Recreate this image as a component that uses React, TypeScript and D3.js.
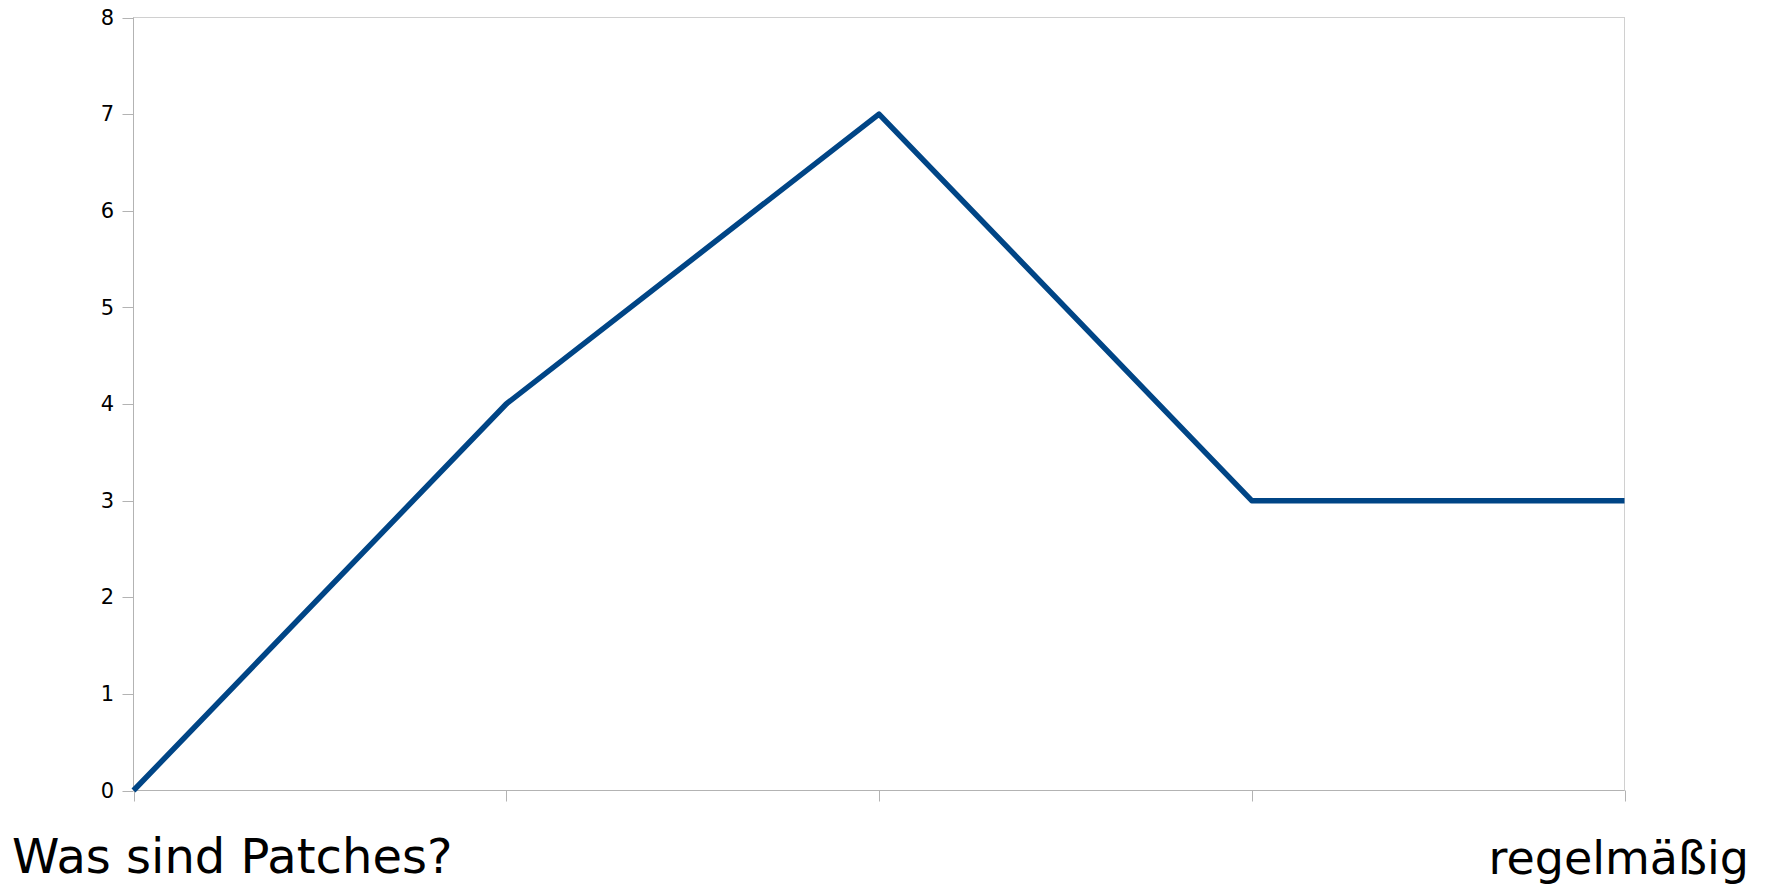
import React from "react";
import * as d3 from "d3";

const categories = ["Was sind Patches?", "", "", "", "regelmäßig"];
const values = [0, 4, 7, 3, 3];
const yTicks = [0, 1, 2, 3, 4, 5, 6, 7, 8];

const W = 1771;
const H = 884;
const left = 133.5;
const right = 1624.5;
const top = 17.5;
const bottom = 790.5;

export default function App() {
  const x = d3.scalePoint<number>().domain(d3.range(categories.length)).range([left, right]);
  const y = d3.scaleLinear().domain([0, 8]).range([bottom, top]);
  const line = d3
    .line<number>()
    .x((_, i) => x(i) as number)
    .y((d) => y(d));
  const axisColor = "#b3b3b3";
  const font = "'DejaVu Sans', sans-serif";
  return (
    <svg
      width={W}
      height={H}
      style={{ position: "absolute", left: 0, top: 0, background: "#fff" }}
    >
      <rect x={left} y={top} width={right - left} height={bottom - top} fill="none" stroke="#d0d0d0" strokeWidth={1} />
      <line x1={left} x2={left} y1={top} y2={bottom} stroke={axisColor} />
      <line x1={left} x2={right} y1={bottom} y2={bottom} stroke={axisColor} />
      {yTicks.map((t) => (
        <g key={t}>
          <line x1={left - 11} x2={left} y1={Math.round(y(t)) + 0.5} y2={Math.round(y(t)) + 0.5} stroke={axisColor} />
          <text
            x={114}
            y={y(t)}
            dy="0.34em"
            textAnchor="end"
            fontFamily={font}
            fontSize={21}
            fill="#000"
          >
            {t}
          </text>
        </g>
      ))}
      {categories.map((c, i) => (
        <line
          key={i}
          x1={Math.round(x(i) as number) + 0.5}
          x2={Math.round(x(i) as number) + 0.5}
          y1={bottom}
          y2={bottom + 11}
          stroke={axisColor}
        />
      ))}
      <path d={line(values) || ""} fill="none" stroke="#004586" strokeWidth={5.5} strokeLinejoin="round" />
      <text x={12} y={873} fontFamily={font} fontSize={48} fill="#000" textAnchor="start">
        {categories[0]}
      </text>
      <text x={1749} y={874} fontFamily={font} fontSize={46} fill="#000" textAnchor="end">
        {categories[categories.length - 1]}
      </text>
    </svg>
  );
}
